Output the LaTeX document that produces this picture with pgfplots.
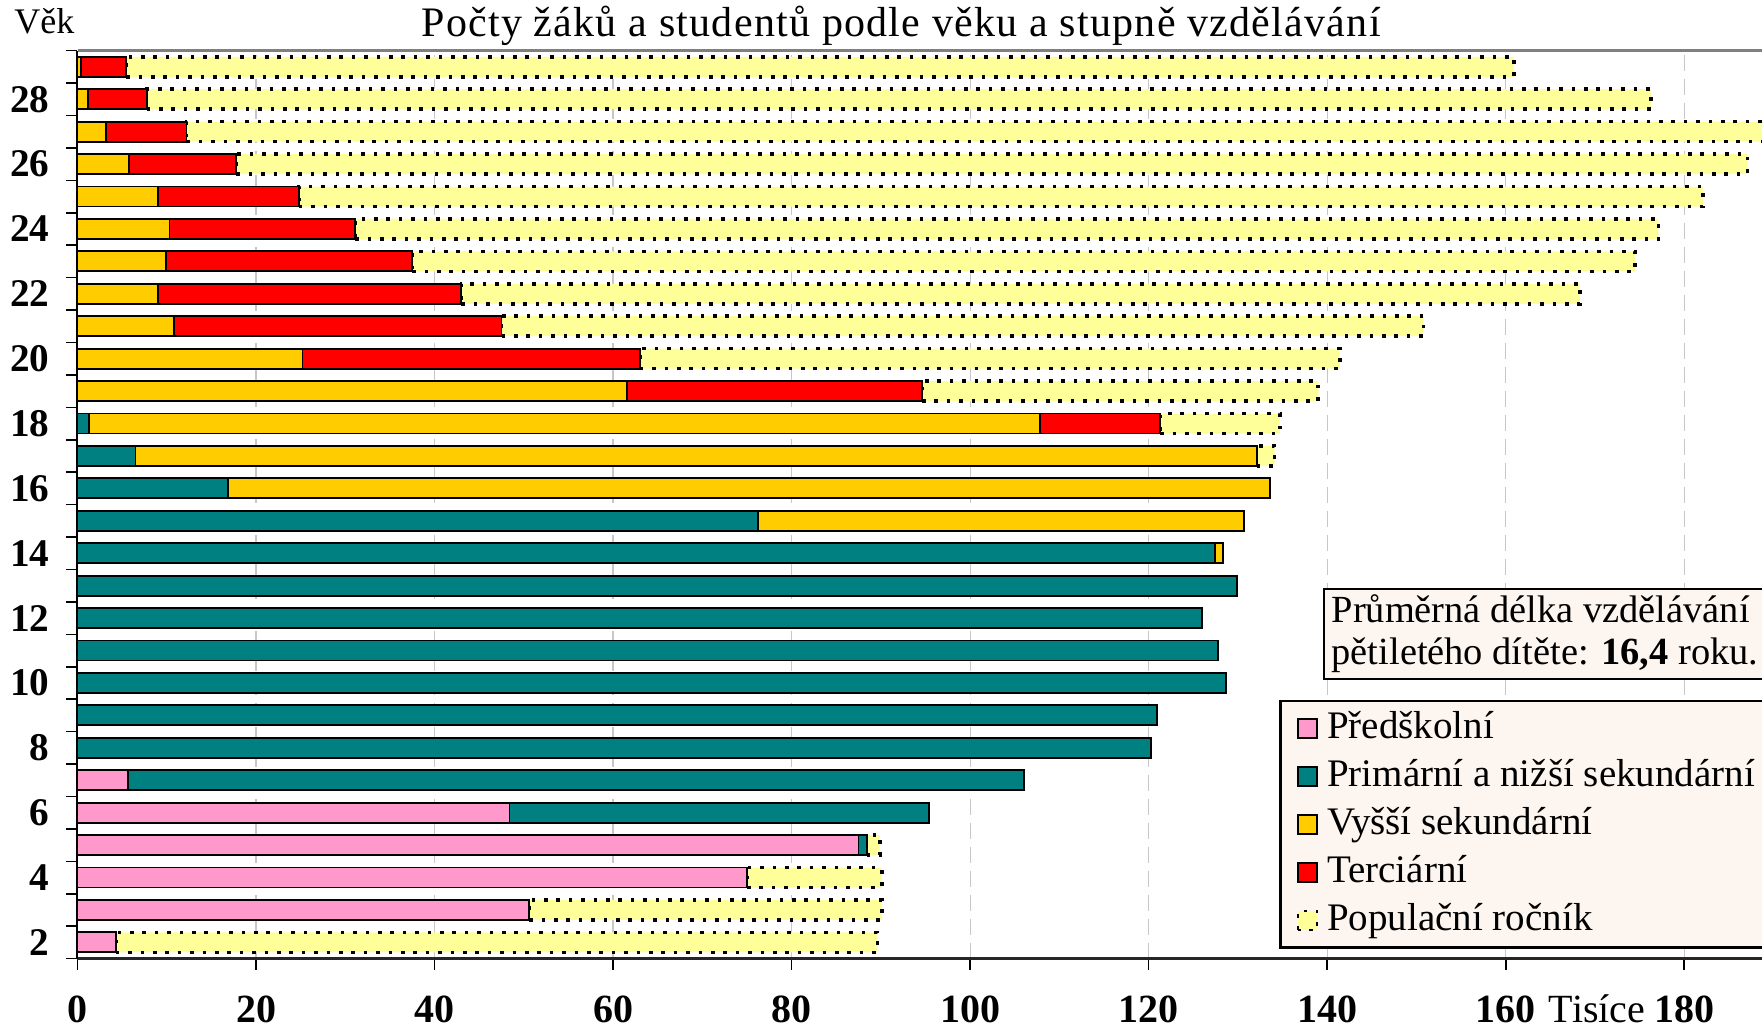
\documentclass[border=0pt]{standalone}
\usepackage{fontspec}
\setmainfont{Liberation Serif}
\usepackage{pgfplots}
\usepackage{pgfplotstable}
\pgfplotsset{compat=1.18}
\definecolor{cpre}{HTML}{FF99CC}
\definecolor{cprim}{HTML}{008080}
\definecolor{csec}{HTML}{FFCC00}
\definecolor{cter}{HTML}{FF0000}
\definecolor{cpop}{HTML}{FFFF99}
\definecolor{cbox}{HTML}{FDF5EF}

\pgfplotstableread{
age pre prim sec ter pop
2 4.3 0 0 0 85.3
3 50.6 0 0 0 39.5
4 75.0 0 0 0 15.1
5 87.5 0.9 0 0 1.5
6 48.4 47.0 0 0 0
7 5.7 100.3 0 0 0
8 0 120.3 0 0 0
9 0 120.9 0 0 0
10 0 128.7 0 0 0
11 0 127.8 0 0 0
12 0 126.0 0 0 0
13 0 129.9 0 0 0
14 0 127.4 0.9 0 0
15 0 76.2 54.5 0 0
16 0 16.9 116.7 0 0
17 0 6.5 125.6 0 2.0
18 0 1.3 106.5 13.5 13.4
19 0 0 61.6 33.0 44.4
20 0 0 25.2 37.8 78.4
21 0 0 10.8 36.7 103.3
22 0 0 9.0 34.0 125.3
23 0 0 9.9 27.6 137.0
24 0 0 10.3 20.8 146.0
25 0 0 9.0 15.8 157.3
26 0 0 5.8 12.0 169.3
27 0 0 3.2 9.0 178.8
28 0 0 1.2 6.55 168.5
29 0 0 0.4 5.05 155.5
}\datatab

\begin{document}
\begin{tikzpicture}
\useasboundingbox (-19.375pt,-17.1pt) rectangle (421.125pt,239.65pt);
\begin{axis}[
  at={(0,0)}, anchor=south west,
  scale only axis, width=421.1pt, height=227pt,
  xbar stacked, bar width=5pt,
  xmin=0, xmax=188.7, ymin=1.5, ymax=29.5,
  clip=false,
  axis x line*=bottom, axis y line*=left,
  x axis line style={line width=0.6pt, black!85},
  y axis line style={line width=0.5pt, black},
  xtick={0,20,...,180},
  tick align=outside,
  major tick length=2.8pt,
  tick style={black, line width=0.4pt},
  xmajorgrids,
  major grid style={dash pattern=on 4pt off 2pt, black!22, line width=0.3pt},
  /pgf/number format/assume math mode=true,
  xticklabel style={font=\bfseries\fontsize{10}{12}\selectfont, inner sep=0pt, anchor=center, yshift=-9.8pt},
  ytick={1.5,2.5,...,29.5},
  yticklabels={},
  extra y ticks={2,4,...,28},
  extra y tick style={tick style={draw=none}, yticklabel style={font=\bfseries\fontsize{9.8}{11}\selectfont, anchor=east, inner sep=0pt, xshift=-4pt}},
  legend image code/.code={\draw[#1, line width=0.5pt] (0pt,-2.4pt) rectangle (4.8pt,2.4pt);},
  legend style={at={(0.7134,0.2848)}, anchor=north west, fill=cbox, draw=black, line width=0.6pt,
    font=\fontsize{9.75}{11}\selectfont, cells={anchor=west}, row sep=0pt,
    nodes={inner xsep=2.2pt, inner ysep=1.4pt, text height=7pt, text depth=2.2pt},
    inner xsep=4.2pt, inner ysep=0.8pt},
]
\addplot[fill=cpre, draw=black, line width=0.45pt] table[x=pre, y=age] {\datatab};
\addplot[fill=cprim, draw=black, line width=0.45pt] table[x=prim, y=age] {\datatab};
\addplot[fill=csec, draw=black, line width=0.45pt] table[x=sec, y=age] {\datatab};
\addplot[fill=cter, draw=black, line width=0.45pt] table[x=ter, y=age] {\datatab};
\addplot[fill=cpop, draw=black, line width=0.9pt, dash pattern=on 0.9pt off 2.2pt] table[x=pop, y=age] {\datatab};
\legend{Předškolní, Primární a nižší sekundární, Vyšší sekundární, Terciární, Populační ročník}
\end{axis}
\draw[line width=0.6pt, black!50] (0,227pt) -- (421.2pt,227pt);
\node[anchor=base, font=\fontsize{10.5}{12}\selectfont\addfontfeature{LetterSpace=3}] at (205.9pt,230.4pt) {Počty žáků a studentů podle věku a stupně vzdělávání};
\node[anchor=base west, inner sep=0pt, font=\fontsize{9}{11}\selectfont] at (-16pt,231.2pt) {Věk};
\node[anchor=center, inner sep=0pt, font=\fontsize{10}{12}\selectfont] at (379.9pt,-12.6pt) {Tisíce};
\node[draw=black, line width=0.5pt, fill=cbox, anchor=north west, align=left, inner xsep=1.9pt, inner ysep=1.5pt,
  font=\fontsize{9.6}{10.4}\selectfont] at (311.4pt,92.65pt)
  {Průměrná délka vzdělávání\\pětiletého dítěte: \textbf{16,4} roku.};
\end{tikzpicture}
\end{document}
